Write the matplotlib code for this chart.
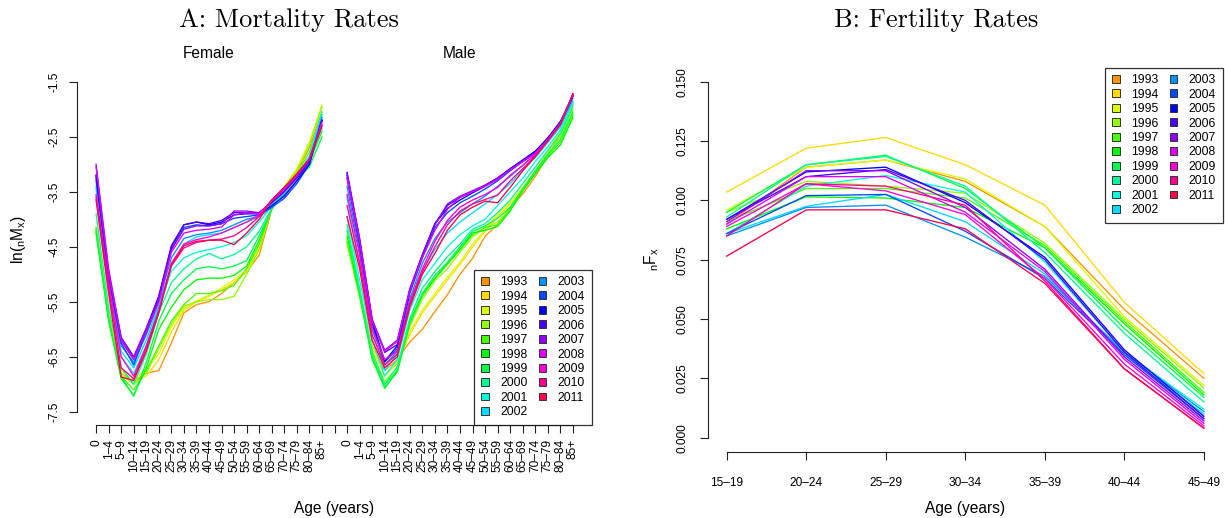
import colorsys
import matplotlib
matplotlib.use("Agg")
import matplotlib.pyplot as plt
from matplotlib.patches import Patch

plt.rcParams['font.family'] = ['Liberation Sans', 'DejaVu Sans']
plt.rcParams['mathtext.fontset'] = 'custom'
plt.rcParams['mathtext.rm'] = 'Liberation Sans'
plt.rcParams['mathtext.it'] = 'Liberation Sans'
plt.rcParams['axes.unicode_minus'] = True

# ---------------------------------------------------------------- data
years = list(range(1993, 2012))

age_groups = ["0", "1–4", "5–9", "10–14", "15–19", "20–24", "25–29", "30–34",
              "35–39", "40–44", "45–49", "50–54", "55–59", "60–64", "65–69",
              "70–74", "75–79", "80–84", "85+"]

fert_ages = ["15–19", "20–24", "25–29", "30–34", "35–39", "40–44", "45–49"]

# log central death rates ln(nMx), one row per year
female_lnm = [
    [-4.20, -5.75, -6.80, -6.95, -6.80, -6.75, -6.25, -5.70, -5.55, -5.50, -5.35, -5.15, -4.95, -4.65, -3.82, -3.45, -3.15, -2.70, -2.05],
    [-4.25, -5.80, -6.85, -6.95, -6.85, -6.55, -6.05, -5.65, -5.50, -5.40, -5.28, -5.15, -4.95, -4.55, -3.78, -3.42, -3.10, -2.62, -1.95],
    [-4.20, -5.70, -6.75, -6.95, -6.70, -6.45, -5.95, -5.62, -5.48, -5.38, -5.25, -5.10, -4.92, -4.50, -3.75, -3.40, -3.08, -2.60, -1.92],
    [-4.15, -5.75, -6.80, -7.00, -6.80, -6.35, -5.90, -5.58, -5.50, -5.46, -5.46, -5.40, -5.00, -4.55, -3.78, -3.42, -3.12, -2.65, -1.95],
    [-4.15, -5.80, -6.85, -7.10, -6.75, -6.30, -5.85, -5.55, -5.35, -5.35, -5.30, -5.20, -4.90, -4.45, -3.80, -3.45, -3.18, -2.78, -2.10],
    [-4.25, -5.85, -6.90, -7.20, -6.70, -6.00, -5.60, -5.28, -5.10, -5.07, -5.07, -5.02, -4.85, -4.38, -3.80, -3.48, -3.22, -2.95, -2.40],
    [-4.20, -5.80, -6.85, -7.22, -6.60, -5.85, -5.35, -5.10, -4.90, -4.86, -4.90, -4.85, -4.75, -4.30, -3.82, -3.50, -3.25, -3.05, -2.50],
    [-3.90, -5.60, -6.70, -7.00, -6.45, -5.70, -5.15, -4.90, -4.72, -4.62, -4.72, -4.64, -4.50, -4.22, -3.80, -3.48, -3.22, -2.95, -2.35],
    [-3.45, -5.30, -6.50, -6.80, -6.30, -5.60, -4.95, -4.70, -4.60, -4.55, -4.50, -4.42, -4.30, -4.05, -3.75, -3.45, -3.20, -2.85, -2.05],
    [-3.40, -5.20, -6.40, -6.70, -6.20, -5.55, -4.85, -4.45, -4.32, -4.28, -4.25, -4.15, -4.05, -3.95, -3.72, -3.45, -3.20, -2.88, -2.10],
    [-3.30, -5.10, -6.30, -6.60, -6.10, -5.50, -4.70, -4.35, -4.28, -4.25, -4.20, -4.10, -4.00, -3.95, -3.78, -3.55, -3.30, -2.95, -2.15],
    [-3.25, -5.05, -6.25, -6.65, -6.05, -5.45, -4.55, -4.15, -4.10, -4.12, -4.08, -3.98, -3.95, -3.92, -3.78, -3.62, -3.35, -3.00, -2.20],
    [-3.20, -5.00, -6.20, -6.55, -6.00, -5.40, -4.50, -4.10, -4.05, -4.10, -4.05, -3.92, -3.90, -3.90, -3.75, -3.58, -3.30, -3.00, -2.20],
    [-3.20, -5.00, -6.15, -6.50, -5.98, -5.40, -4.48, -4.10, -4.05, -4.08, -4.02, -3.88, -3.88, -3.88, -3.70, -3.50, -3.25, -2.95, -2.20],
    [-3.00, -4.90, -6.15, -6.50, -6.00, -5.45, -4.55, -4.18, -4.12, -4.12, -4.08, -3.85, -3.85, -3.88, -3.68, -3.48, -3.22, -2.92, -2.22],
    [-3.05, -4.95, -6.20, -6.55, -6.05, -5.50, -4.60, -4.25, -4.20, -4.18, -4.14, -3.92, -3.88, -3.90, -3.66, -3.45, -3.20, -2.90, -2.25],
    [-3.55, -5.15, -6.50, -6.85, -6.30, -5.65, -4.80, -4.45, -4.37, -4.32, -4.25, -4.15, -4.05, -3.92, -3.65, -3.42, -3.18, -2.90, -2.28],
    [-3.60, -5.25, -6.70, -6.90, -6.35, -5.68, -4.85, -4.52, -4.42, -4.38, -4.36, -4.30, -4.15, -3.95, -3.65, -3.42, -3.18, -2.92, -2.30],
    [-3.65, -5.35, -6.87, -6.93, -6.40, -5.70, -4.82, -4.48, -4.40, -4.38, -4.38, -4.46, -4.25, -4.00, -3.65, -3.42, -3.18, -2.90, -2.30],
]

male_lnm = [
    [-4.35, -5.30, -6.30, -6.75, -6.55, -6.23, -6.00, -5.68, -5.37, -5.00, -4.71, -4.31, -4.09, -3.79, -3.54, -3.22, -2.85, -2.45, -1.92],
    [-4.40, -5.35, -6.35, -6.85, -6.60, -6.10, -5.70, -5.40, -5.10, -4.82, -4.50, -4.22, -3.95, -3.72, -3.45, -3.15, -2.80, -2.40, -1.88],
    [-4.35, -5.30, -6.30, -6.85, -6.62, -6.05, -5.65, -5.35, -5.05, -4.78, -4.45, -4.20, -3.90, -3.70, -3.42, -3.12, -2.78, -2.38, -1.85],
    [-4.45, -5.40, -6.45, -6.95, -6.70, -5.95, -5.45, -5.12, -4.90, -4.60, -4.32, -4.15, -4.05, -3.80, -3.48, -3.15, -2.82, -2.50, -2.00],
    [-4.40, -5.40, -6.50, -7.00, -6.75, -5.90, -5.40, -5.08, -4.82, -4.55, -4.28, -4.15, -4.10, -3.82, -3.48, -3.15, -2.85, -2.60, -2.10],
    [-4.30, -5.35, -6.55, -7.05, -6.78, -5.88, -5.37, -5.07, -4.80, -4.55, -4.25, -4.20, -4.13, -3.85, -3.48, -3.17, -2.88, -2.65, -2.15],
    [-4.20, -5.30, -6.50, -7.08, -6.75, -5.85, -5.35, -5.02, -4.78, -4.50, -4.22, -4.12, -3.98, -3.78, -3.45, -3.12, -2.82, -2.55, -2.05],
    [-4.10, -5.25, -6.40, -7.00, -6.68, -5.80, -5.25, -4.95, -4.68, -4.45, -4.18, -4.08, -3.88, -3.65, -3.35, -3.05, -2.75, -2.45, -1.95],
    [-3.95, -5.10, -6.20, -6.85, -6.55, -5.65, -5.10, -4.80, -4.50, -4.28, -4.12, -4.00, -3.75, -3.50, -3.25, -2.95, -2.68, -2.38, -1.88],
    [-3.60, -4.80, -6.00, -6.75, -6.45, -5.55, -4.95, -4.55, -4.25, -4.05, -3.88, -3.72, -3.55, -3.35, -3.10, -2.88, -2.60, -2.32, -1.85],
    [-3.40, -4.60, -5.90, -6.65, -6.40, -5.45, -4.80, -4.35, -4.05, -3.88, -3.72, -3.58, -3.40, -3.22, -3.02, -2.82, -2.56, -2.28, -1.80],
    [-3.25, -4.50, -5.90, -6.60, -6.35, -5.35, -4.70, -4.15, -3.88, -3.70, -3.58, -3.45, -3.30, -3.12, -2.95, -2.78, -2.52, -2.25, -1.76],
    [-3.20, -4.40, -5.85, -6.58, -6.30, -5.30, -4.65, -4.08, -3.80, -3.65, -3.52, -3.40, -3.25, -3.08, -2.92, -2.76, -2.52, -2.22, -1.75],
    [-3.15, -4.35, -5.82, -6.42, -6.28, -5.28, -4.65, -4.08, -3.75, -3.60, -3.50, -3.38, -3.25, -3.08, -2.93, -2.78, -2.54, -2.25, -1.76],
    [-3.15, -4.35, -5.82, -6.38, -6.20, -5.26, -4.65, -4.10, -3.72, -3.58, -3.48, -3.38, -3.25, -3.10, -2.95, -2.80, -2.55, -2.26, -1.74],
    [-3.25, -4.40, -5.85, -6.40, -6.22, -5.30, -4.70, -4.20, -3.82, -3.60, -3.50, -3.40, -3.28, -3.10, -2.95, -2.80, -2.55, -2.26, -1.72],
    [-3.55, -4.65, -6.00, -6.55, -6.40, -5.50, -4.90, -4.40, -4.02, -3.78, -3.65, -3.55, -3.42, -3.20, -3.02, -2.82, -2.55, -2.26, -1.72],
    [-3.75, -4.80, -6.10, -6.65, -6.45, -5.55, -4.95, -4.50, -4.10, -3.85, -3.72, -3.64, -3.56, -3.30, -3.08, -2.85, -2.56, -2.27, -1.72],
    [-3.95, -4.90, -6.20, -6.70, -6.50, -5.60, -5.00, -4.62, -4.20, -3.92, -3.78, -3.67, -3.70, -3.42, -3.12, -2.86, -2.58, -2.28, -1.73],
]

# age-specific fertility rates nFx, one row per year
fertility = [
    [0.0900, 0.1140, 0.1170, 0.1080, 0.0890, 0.0540, 0.0250],
    [0.1035, 0.1220, 0.1265, 0.1150, 0.0980, 0.0570, 0.0270],
    [0.0960, 0.1140, 0.1170, 0.1090, 0.0890, 0.0510, 0.0220],
    [0.0950, 0.1080, 0.1060, 0.1030, 0.0820, 0.0500, 0.0210],
    [0.0910, 0.1050, 0.1050, 0.1010, 0.0810, 0.0490, 0.0190],
    [0.0880, 0.1015, 0.1010, 0.0970, 0.0800, 0.0480, 0.0180],
    [0.0950, 0.1150, 0.1190, 0.1050, 0.0800, 0.0460, 0.0170],
    [0.0930, 0.1150, 0.1185, 0.1060, 0.0780, 0.0440, 0.0150],
    [0.0860, 0.1060, 0.1105, 0.1035, 0.0740, 0.0360, 0.0120],
    [0.0860, 0.0975, 0.1025, 0.0910, 0.0690, 0.0350, 0.0100],
    [0.0850, 0.0970, 0.0980, 0.0845, 0.0680, 0.0360, 0.0110],
    [0.0860, 0.1020, 0.1025, 0.0870, 0.0670, 0.0350, 0.0080],
    [0.0920, 0.1120, 0.1140, 0.0990, 0.0760, 0.0370, 0.0090],
    [0.0920, 0.1100, 0.1130, 0.1000, 0.0750, 0.0360, 0.0080],
    [0.0910, 0.1125, 0.1125, 0.0970, 0.0710, 0.0340, 0.0070],
    [0.0900, 0.1100, 0.1100, 0.0950, 0.0700, 0.0330, 0.0060],
    [0.0890, 0.1070, 0.1040, 0.0940, 0.0670, 0.0310, 0.0050],
    [0.0850, 0.1070, 0.1060, 0.0980, 0.0660, 0.0290, 0.0040],
    [0.0765, 0.0960, 0.0960, 0.0880, 0.0650, 0.0290, 0.0040],
]

mort_yticks = [-7.5, -6.5, -5.5, -4.5, -3.5, -2.5, -1.5]
fert_yticks = [0.000, 0.025, 0.050, 0.075, 0.100, 0.125, 0.150]

# ---------------------------------------------------------------- style
W, H = 1225, 518
fig = plt.figure(figsize=(W / 100, H / 100), dpi=100)

# rainbow palette: hues 2/21 ... 20/21
colors = [colorsys.hsv_to_rgb(k / 21, 1.0, 1.0) for k in range(2, 21)]

AXC = "#222222"
TICK_FS = 8.6
LEG_FS = 8.8
LAB_FS = 11.2


def px_axes(x0, y0, x1, y1):
    return fig.add_axes([x0 / W, 1 - y1 / H, (x1 - x0) / W, (y1 - y0) / H])


def r_style(ax, xb, yb):
    for s in ("top", "right"):
        ax.spines[s].set_visible(False)
    for s in ("left", "bottom"):
        ax.spines[s].set_color(AXC)
        ax.spines[s].set_linewidth(0.8)
    ax.spines["bottom"].set_bounds(*xb)
    ax.spines["left"].set_bounds(*yb)
    ax.tick_params(direction="out", length=6, width=0.8, color=AXC,
                   labelsize=TICK_FS, labelcolor="black")


def legend(ax, loc):
    handles = [Patch(facecolor=c, edgecolor="#333333", linewidth=0.7) for c in colors]
    lg = ax.legend(handles, [str(y) for y in years], loc=loc, ncol=2,
                   fontsize=LEG_FS, frameon=True, fancybox=False,
                   borderaxespad=0, handlelength=0.62, handleheight=0.62,
                   handletextpad=0.95, columnspacing=0.9, labelspacing=0.2,
                   borderpad=0.55)
    fr = lg.get_frame()
    fr.set_edgecolor("black")
    fr.set_linewidth(0.9)
    return lg


# ---------------------------------------------------------------- A: mortality
n_age = len(age_groups)
male_off = n_age + 1
axA = px_axes(77, 68.6, 592, 425)
xf = list(range(n_age))
xm = [male_off + i for i in range(n_age)]
for c, f, m in zip(colors, female_lnm, male_lnm):
    axA.plot(xf, f, color=c, lw=0.95)
    axA.plot(xm, m, color=c, lw=0.95)

axA.set_xlim(-0.04 * (xm[-1]), xm[-1] * 1.04)
axA.set_ylim(-7.5 - 0.24, -1.5 + 0.24)
r_style(axA, (0, xm[-1]), (-7.5, -1.5))
axA.set_xticks(list(range(xm[-1] + 1)))
axA.set_xticklabels(age_groups + [""] + age_groups, rotation=90, va="top")
axA.tick_params(axis="x", pad=4)
axA.set_yticks(mort_yticks)
axA.set_yticklabels([f"{v:.1f}" for v in mort_yticks], rotation=90, va="center")
axA.tick_params(axis="y", pad=6)
axA.set_ylabel(r"$\mathrm{ln}(_{\mathrm{n}}\mathrm{M}_{\mathrm{x}})$", fontsize=LAB_FS)
axA.yaxis.set_label_coords((28 - 77) / 515, 0.52)
axA.text((n_age - 1) / 2, -1.13, "Female", ha="center", va="bottom",
         fontsize=LAB_FS)
axA.text(male_off + (n_age - 1) / 2, -1.13, "Male", ha="center", va="bottom",
         fontsize=LAB_FS)
legend(axA, "lower right")

# ---------------------------------------------------------------- B: fertility
axB = px_axes(707.6, 67.5, 1223, 451.9)
xs = list(range(1, len(fert_ages) + 1))
for c, f in zip(colors, fertility):
    axB.plot(xs, f, color=c, lw=0.95)
axB.set_xlim(1 - 0.24, len(fert_ages) + 0.24)
axB.set_ylim(-0.006, 0.156)
r_style(axB, (1, len(fert_ages)), (0, 0.15))
axB.set_xticks(xs)
axB.set_xticklabels(fert_ages)
axB.tick_params(axis="x", pad=12)
axB.set_yticks(fert_yticks)
axB.set_yticklabels([f"{v:.3f}" for v in fert_yticks], rotation=90, va="center")
axB.tick_params(axis="y", pad=8)
axB.set_ylabel(r"${}_{\mathrm{n}}\mathrm{F}_{\mathrm{x}}$", fontsize=LAB_FS)
axB.yaxis.set_label_coords((661 - 707.6) / 515.4, 0.5)
legend(axB, "upper right")

# ---------------------------------------------------------------- titles and axis labels
fig.text(289 / W, 1 - 20 / H, "A: Mortality Rates", family="cmr10",
         fontsize=19, ha="center", va="center")
fig.text(936 / W, 1 - 20 / H, "B: Fertility Rates", family="cmr10",
         fontsize=19, ha="center", va="center")
fig.text(334.5 / W, 1 - 509 / H, "Age (years)", fontsize=LAB_FS,
         ha="center", va="center")
fig.text(965 / W, 1 - 509 / H, "Age (years)", fontsize=LAB_FS,
         ha="center", va="center")

fig.savefig("out.png", dpi=100)
